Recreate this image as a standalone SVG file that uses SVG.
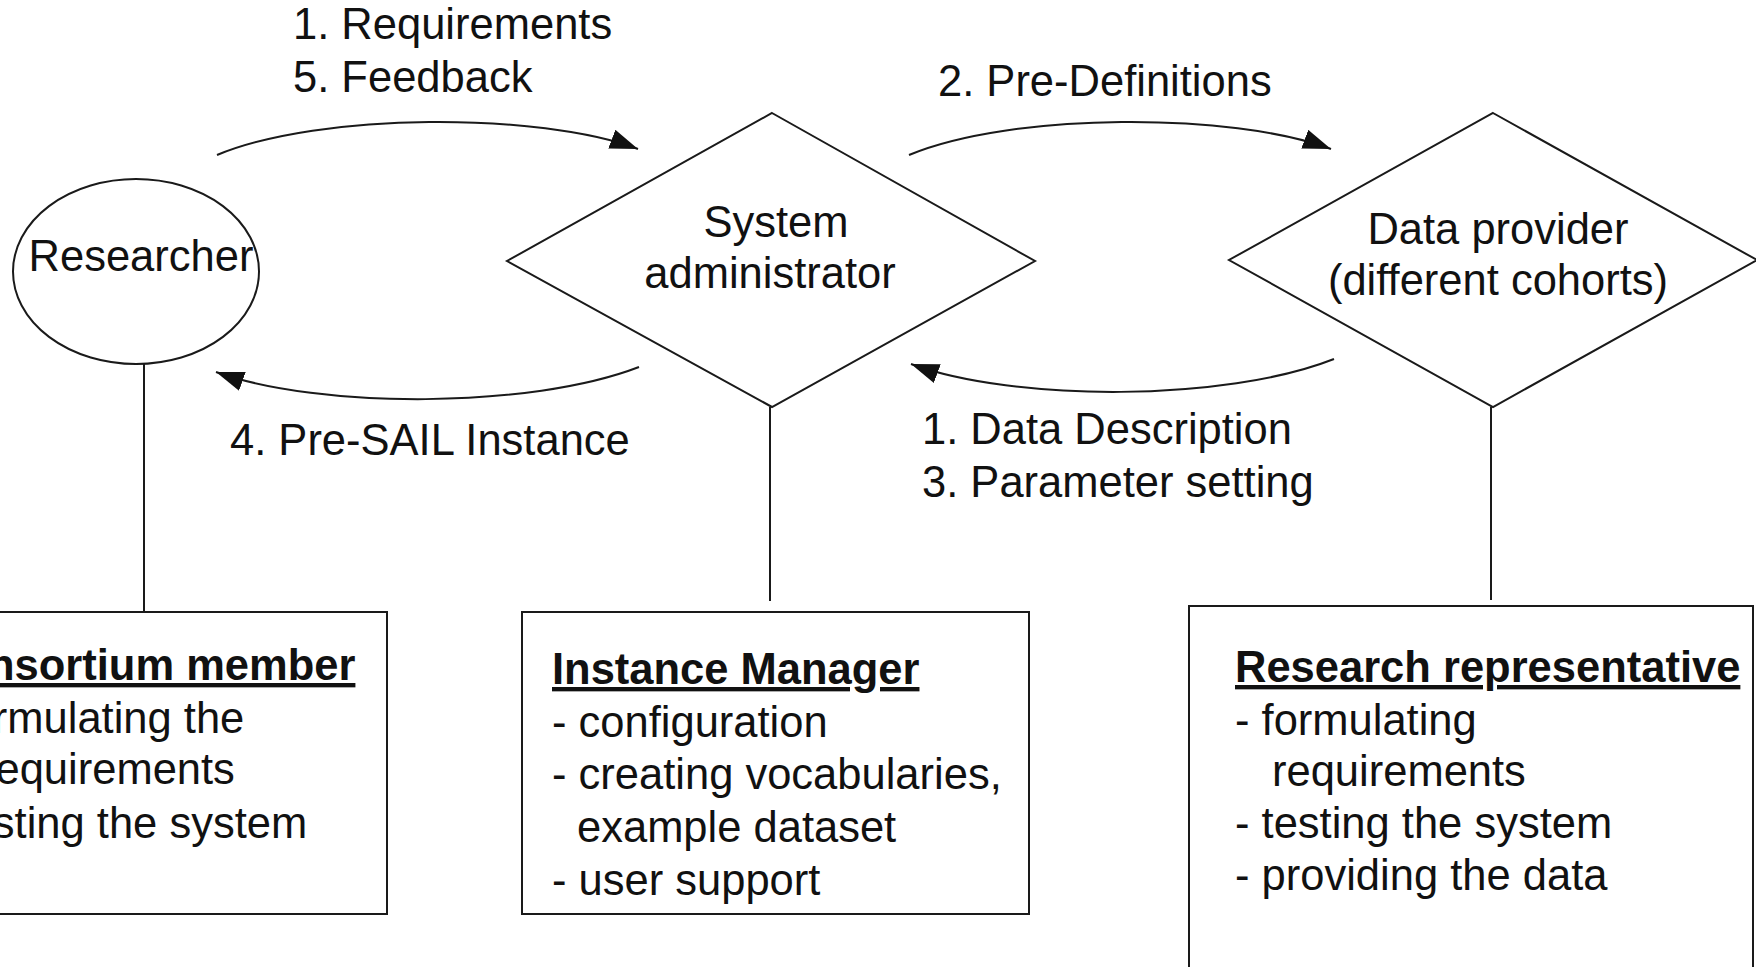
<svg xmlns="http://www.w3.org/2000/svg" width="1756" height="967" viewBox="0 0 1756 967">
  <style>
    .shape { fill: #ffffff; stroke: #1a1a1a; stroke-width: 2; }
    .link { fill: none; stroke: #1a1a1a; stroke-width: 2; }
    .lbl { font-family: "Liberation Sans", Arial, sans-serif; font-size: 43.5px; fill: #111111; }
    .mid { text-anchor: middle; }
    .head { font-weight: bold; text-decoration: underline; }
  </style>
  <defs>
    <marker id="arrow" markerUnits="userSpaceOnUse" markerWidth="30" markerHeight="22" refX="28" refY="10" orient="auto">
      <path d="M0,0 L28,10 L0,20 z" fill="#111111"/>
    </marker>
  </defs>

  <rect width="1756" height="967" fill="#ffffff"/>

  <!-- connectors -->
  <g id="connectors">
    <path class="link" d="M217,155 C320,112 540,112 638,149" marker-end="url(#arrow)"/>
    <path class="link" d="M909,155 C1012,112 1232,112 1331,149" marker-end="url(#arrow)"/>
    <path class="link" d="M639,367 C530,409 320,409 216,372" marker-end="url(#arrow)"/>
    <path class="link" d="M1334,359 C1225,402 1015,402 911,364" marker-end="url(#arrow)"/>
    <line class="link" x1="144" y1="364" x2="144" y2="612"/>
    <line class="link" x1="770" y1="407" x2="770" y2="601"/>
    <line class="link" x1="1491" y1="407" x2="1491" y2="600"/>
  </g>

  <!-- connector labels -->
  <g id="connector-labels">
    <text class="lbl" x="293" y="39">1. Requirements</text>
    <text class="lbl" x="293" y="92">5. Feedback</text>
    <text class="lbl" x="938" y="96">2. Pre-Definitions</text>
    <text class="lbl" x="230" y="455">4. Pre-SAIL Instance</text>
    <text class="lbl" x="922" y="444">1. Data Description</text>
    <text class="lbl" x="922" y="497">3. Parameter setting</text>
  </g>

  <g id="researcher">
    <ellipse class="shape" cx="136" cy="271.5" rx="123" ry="92.5"/>
    <text class="lbl mid" x="141" y="271">Researcher</text>
  </g>

  <g id="system-administrator">
    <polygon class="shape" points="772,113 1035,261 772,407 507,261"/>
    <text class="lbl mid" x="776" y="237">System</text>
    <text class="lbl mid" x="770" y="288">administrator</text>
  </g>

  <g id="data-provider">
    <polygon class="shape" points="1493,113 1757,260 1493,407 1229,260"/>
    <text class="lbl mid" x="1498" y="244">Data provider</text>
    <text class="lbl mid" x="1498" y="295">(different cohorts)</text>
  </g>

  <g id="consortium-member">
    <rect class="shape" x="-20" y="612" width="407" height="302"/>
    <text class="lbl head" x="-70" y="680">Consortium member</text>
    <text class="lbl" x="-70" y="733">- formulating the</text>
    <text class="lbl" x="-19" y="784">requirements</text>
    <text class="lbl" x="-70" y="838">- testing the system</text>
  </g>

  <g id="instance-manager">
    <rect class="shape" x="522" y="612" width="507" height="302"/>
    <text class="lbl head" x="552" y="684">Instance Manager</text>
    <text class="lbl" x="552" y="737">- configuration</text>
    <text class="lbl" x="552" y="789">- creating vocabularies,</text>
    <text class="lbl" x="577" y="842">example dataset</text>
    <text class="lbl" x="552" y="895">- user support</text>
  </g>

  <g id="research-representative">
    <rect class="shape" x="1189" y="606" width="564" height="400"/>
    <text class="lbl head" x="1235" y="682">Research representative</text>
    <text class="lbl" x="1235" y="735">- formulating</text>
    <text class="lbl" x="1272" y="786">requirements</text>
    <text class="lbl" x="1235" y="838">- testing the system</text>
    <text class="lbl" x="1235" y="890">- providing the data</text>
  </g>
</svg>
